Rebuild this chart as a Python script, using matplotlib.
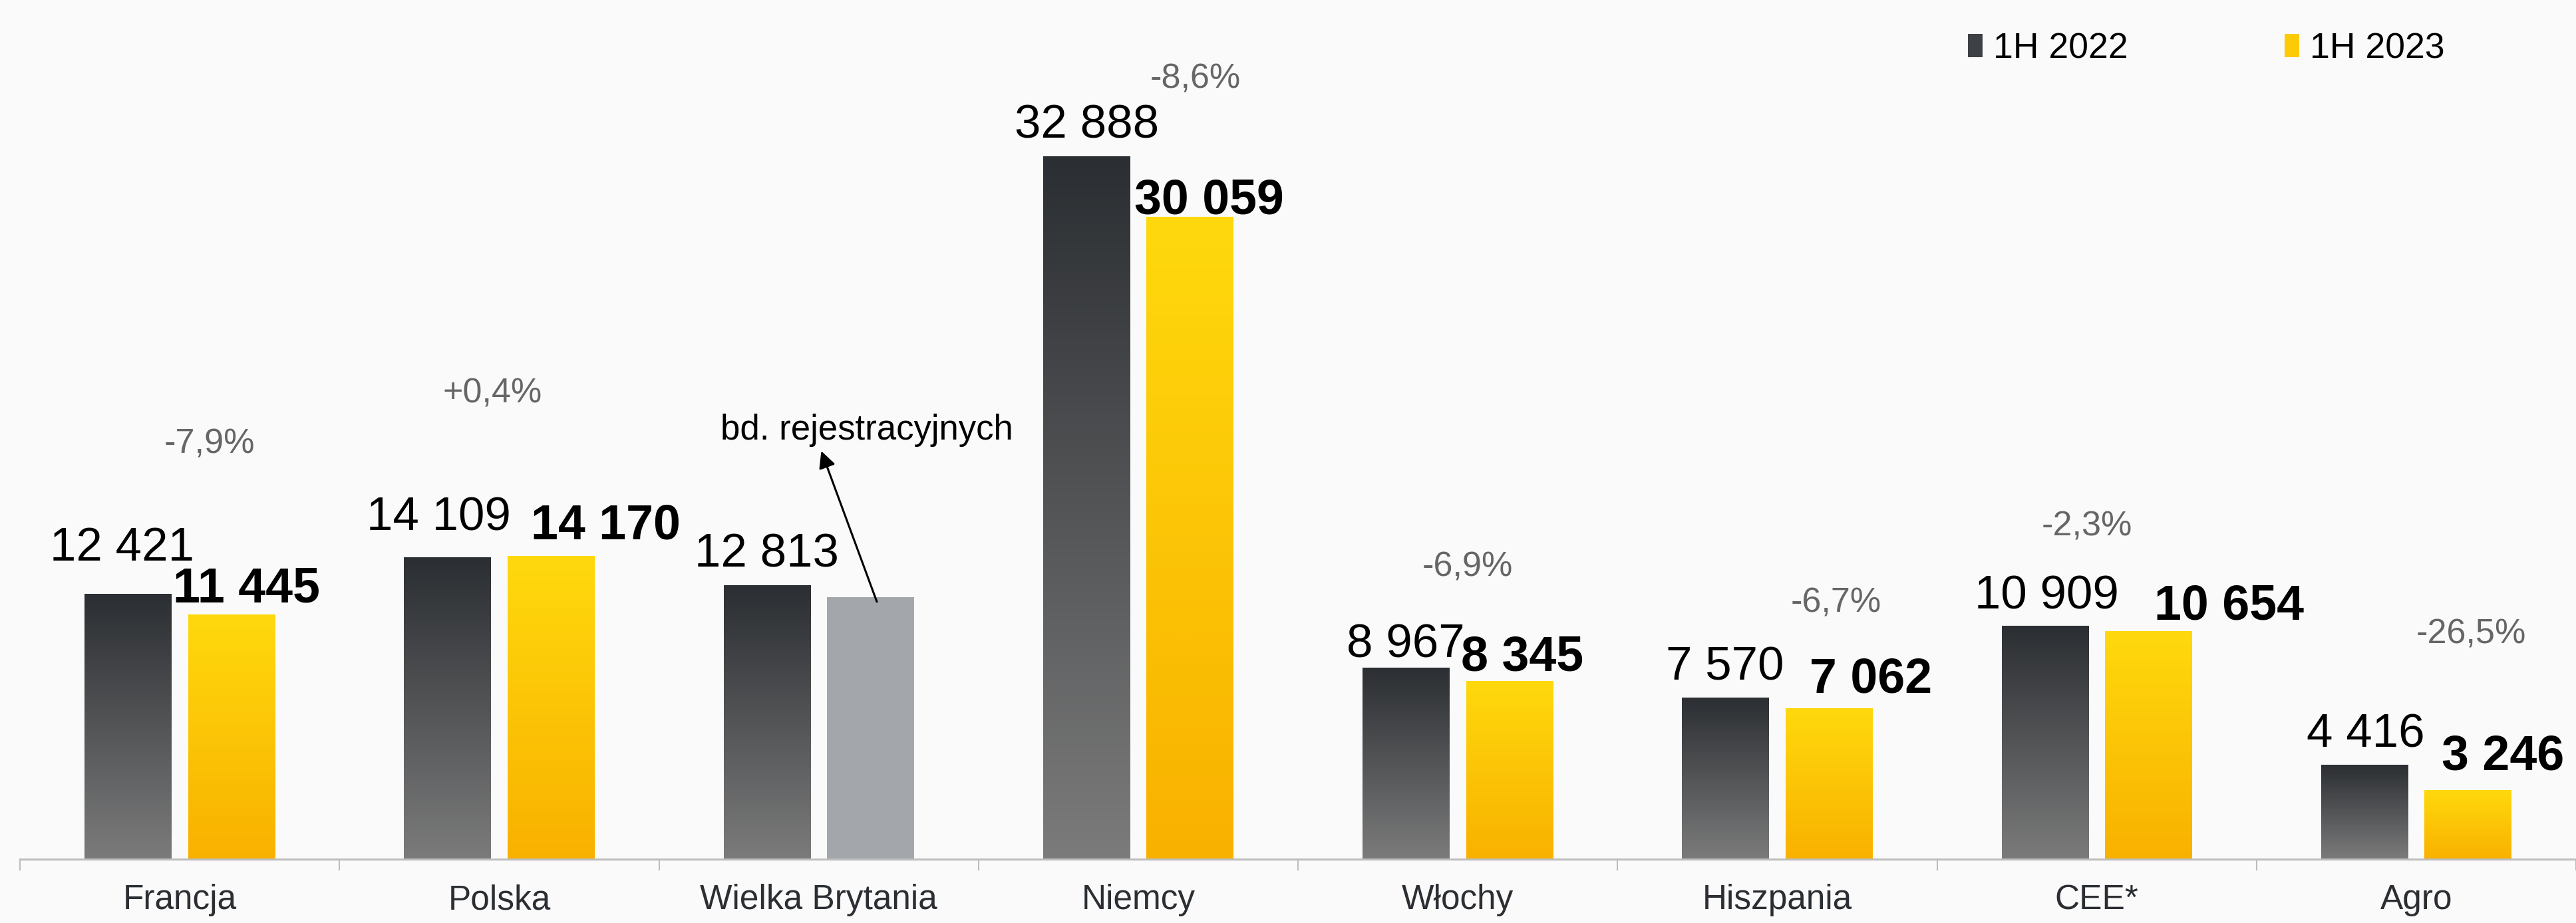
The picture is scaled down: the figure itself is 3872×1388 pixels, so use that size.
import numpy as np
import matplotlib
matplotlib.use("Agg")
import matplotlib.pyplot as plt
from matplotlib.colors import LinearSegmentedColormap
from matplotlib.patches import Patch

# ---------------- data ----------------
categories = ["Francja", "Polska", "Wielka Brytania", "Niemcy", "Włochy",
              "Hiszpania", "CEE*", "Agro"]
values_2022 = [12421, 14109, 12813, 32888, 8967, 7570, 10909, 4416]
values_2023 = [11445, 14170, 12240, 30059, 8345, 7062, 10654, 3246]
has_data_2023 = [True, True, False, True, True, True, True, True]
labels_2022 = ["12 421", "14 109", "12 813", "32 888", "8 967", "7 570", "10 909", "4 416"]
labels_2023 = ["11 445", "14 170", "", "30 059", "8 345", "7 062", "10 654", "3 246"]
change_labels = ["-7,9%", "+0,4%", "", "-8,6%", "-6,9%", "-6,7%", "-2,3%", "-26,5%"]
series_names = ["1H 2022", "1H 2023"]
note_text = "bd. rejestracyjnych"

# ---------------- layout (pixel offsets, converted to points) ----------------
PX = 0.72  # points per pixel at dpi 100
lab22_dx = [-8.5, -13.5, 0, 0, 0, -1, 2.5, 2]
lab22_gap = [50, 41, 28, 27, 15, 26, 26, 27]
lab23_dx = [22.5, 82.5, 0, 28.5, 19.5, 62.5, 121.5, 52.5]
lab23_gap = [19, 26, 0, 4, 15, 23, 18, 30]
pct_dx = [44.5, -10.5, 0, 85.5, 14.5, 88.5, -14.5, 82.5]
pct_gap = [211, 231, 0, 102, 137, 128, 136, 183]

W, H = 3872, 1388
BG = "#FAFAFA"
plt.rcParams["font.family"] = ["Liberation Sans", "DejaVu Sans"]

fig = plt.figure(figsize=(W / 100, H / 100), dpi=100, facecolor=BG)
ax_left = 30 / W
ax_bottom = 96 / H
ax = fig.add_axes([ax_left, ax_bottom, 1 - ax_left, 1292 / H])
ax.set_facecolor(BG)

x = np.arange(len(categories))
bw = 0.272
off = 0.162
xlim = (-0.5, -0.5 + (W - 30) / 481.3)
ylim = (0, 1292 / 0.03215)

dark_top, dark_bot = "#2B2E32", "#7B7B7B"
yel_top, yel_bot = "#FFD90D", "#F9B100"
grey_nodata = "#A3A6AB"

bars22 = ax.bar(x - off, values_2022, width=bw, color=dark_top, linewidth=0, zorder=2)
bars23 = ax.bar(x + off, values_2023, width=bw, color=yel_top, linewidth=0, zorder=2)


def gradient_fill(rect, c_top, c_bot):
    x0, y0 = rect.get_x(), rect.get_y()
    w, h = rect.get_width(), rect.get_height()
    grad = np.linspace(0, 1, 256).reshape(-1, 1)
    cmap = LinearSegmentedColormap.from_list("g", [c_bot, c_top])
    im = ax.imshow(grad, extent=(x0, x0 + w, y0, y0 + h), origin="lower",
                   cmap=cmap, aspect="auto", zorder=2.1, interpolation="bilinear")
    im.set_clip_path(rect)
    rect.set_facecolor("none")


for r in bars22:
    gradient_fill(r, dark_top, dark_bot)
for r, ok in zip(bars23, has_data_2023):
    if ok:
        gradient_fill(r, yel_top, yel_bot)
    else:
        r.set_facecolor(grey_nodata)

ax.set_xlim(*xlim)
ax.set_ylim(*ylim)

# value labels
for i in range(len(categories)):
    ax.annotate(labels_2022[i], xy=(x[i] - off, values_2022[i]),
                xytext=(lab22_dx[i] * PX, lab22_gap[i] * PX), textcoords="offset points",
                ha="center", va="baseline", fontsize=51, color="black", zorder=5)
    if labels_2023[i]:
        ax.annotate(labels_2023[i], xy=(x[i] + off, values_2023[i]),
                    xytext=(lab23_dx[i] * PX, lab23_gap[i] * PX), textcoords="offset points",
                    ha="center", va="baseline", fontsize=53, fontweight="bold",
                    color="black", zorder=5)
    if change_labels[i]:
        top = max(values_2022[i], values_2023[i])
        ax.annotate(change_labels[i], xy=(x[i], top),
                    xytext=(pct_dx[i] * PX, pct_gap[i] * PX), textcoords="offset points",
                    ha="center", va="baseline", fontsize=37.5, color="#666666", zorder=5)

# note with arrow for missing data bar
nd = has_data_2023.index(False)
ax.annotate("", xy=(x[nd] + 0.008, values_2023[nd] + 6850),
            xytext=(x[nd] + 0.182, values_2023[nd] - 200),
            arrowprops=dict(arrowstyle="-|>", color="black", lw=2.2,
                            mutation_scale=38, shrinkA=0, shrinkB=0), zorder=6)
ax.text(x[nd] + 0.151, values_2023[nd] + 7820, note_text, ha="center", va="center",
        fontsize=38, color="black", zorder=6)

# axes styling
for s in ["left", "right", "top"]:
    ax.spines[s].set_visible(False)
ax.spines["bottom"].set_color("#BDBDBD")
ax.spines["bottom"].set_linewidth(2.2)
ax.set_yticks([])
ax.set_xticks(x)
ax.set_xticklabels(categories, fontsize=37, color="#2B2E32")
ax.tick_params(axis="x", which="major", length=0, pad=27)
ax.set_xticks(np.arange(-0.5, len(categories), 1.0), minor=True)
ax.tick_params(axis="x", which="minor", length=12.2, width=1.5, color="#BDBDBD",
               direction="out")

# legend
handles = [Patch(facecolor="#3D4044", edgecolor="none", label=series_names[0]),
           Patch(facecolor="#FDCB05", edgecolor="none", label=series_names[1])]
fig.legend(handles=handles, loc="center left", bbox_to_anchor=(2958 / W, 1 - 73 / H),
           ncol=2, frameon=False, fontsize=38.5, handlelength=0.41, handleheight=0.63,
           handletextpad=0.3, columnspacing=4.4, borderpad=0, borderaxespad=0)

fig.savefig("out.png", dpi=100, facecolor=BG)
